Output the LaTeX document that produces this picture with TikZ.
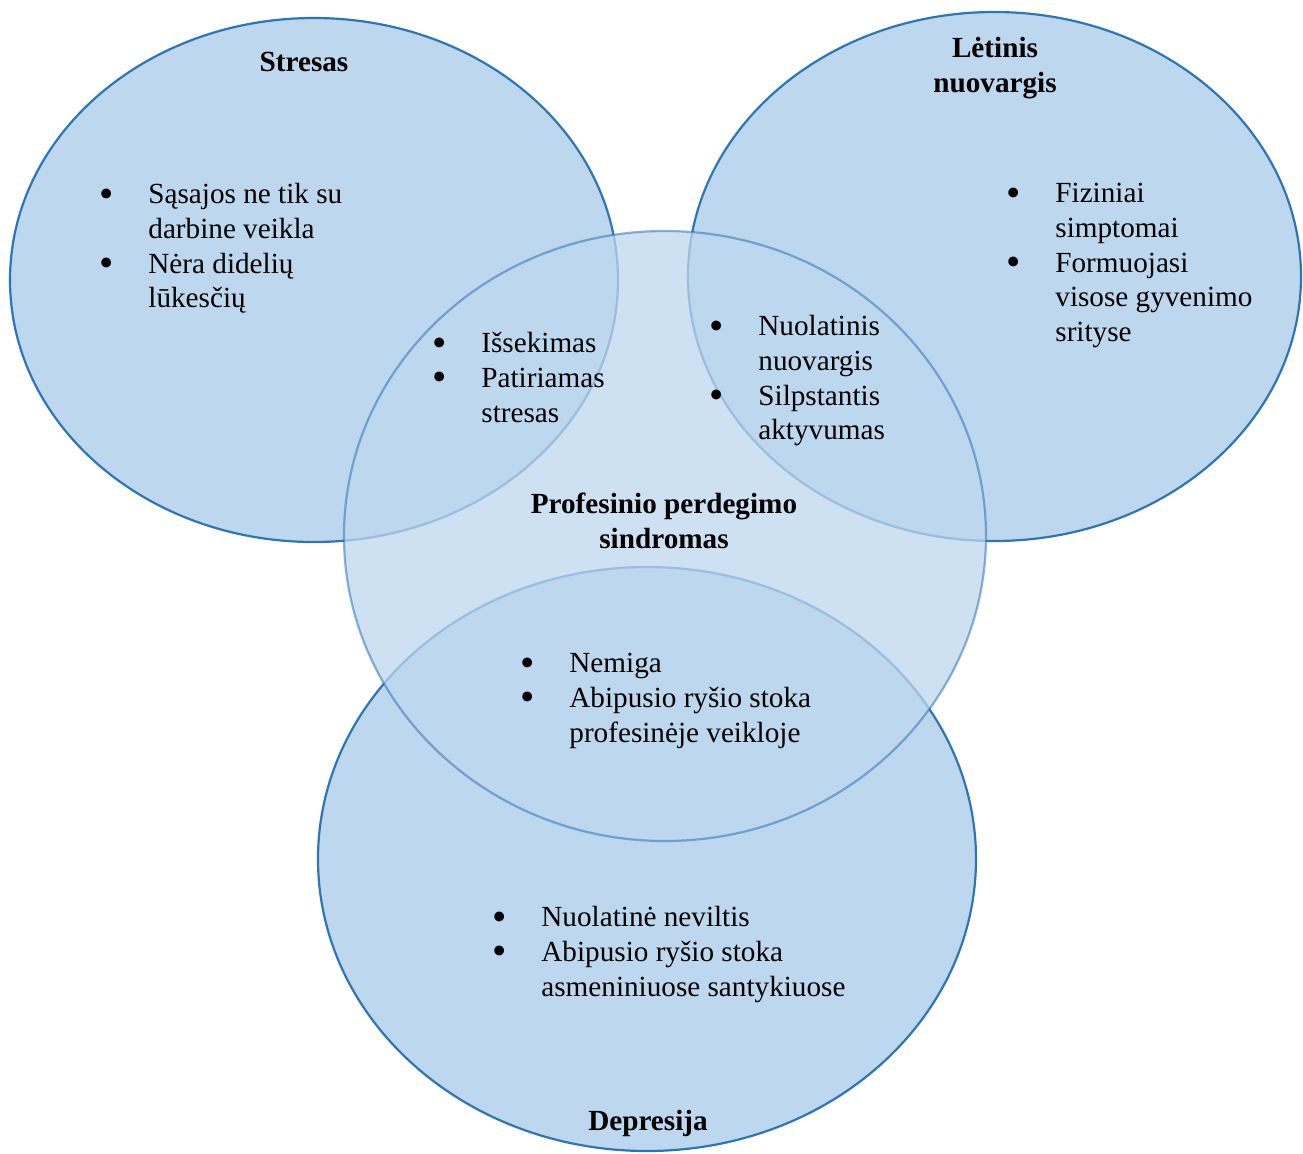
\documentclass[tikz,border=0pt]{standalone}
\usepackage{fontspec}
\setmainfont{Liberation Serif}
\usepackage{graphicx}
\usetikzlibrary{shapes.geometric,positioning}
\definecolor{vennfill}{RGB}{189,215,238}
\definecolor{vennline}{RGB}{46,117,182}
\newcommand{\bul}{\makebox[0pt]{\raisebox{-1.8pt}{\scalebox{1.4}{\textbullet}}}\hspace*{21pt}}
\newcommand{\ind}{\hspace*{21pt}}
\newcommand{\topln}{\rule{0pt}{14pt}}

\begin{document}
\begin{tikzpicture}[x=0.5pt, y=-0.5pt,
every node/.style={
        font=\fontsize{14.6}{17.4}\selectfont
    },
    venn/.style = {ellipse, draw=vennline, fill=vennfill,
                   line width=1.1pt, inner sep=0pt},
    mid/.style = {venn, fill opacity=0.75, draw opacity=0.55},
    head/.style = {font=\fontsize{14.6}{17.4}\selectfont\bfseries,
                   align=center, inner sep=0pt},
    items/.style = {align=left, inner sep=0pt, anchor=north west}
    ]
\useasboundingbox (0,0) rectangle (1303,1153);
% the three outer sets
\node (Stresas)   [venn, minimum width=304pt, minimum height=262pt] at (314,280) {};
\node (Letinis)   [venn, minimum width=306.5pt, minimum height=264.5pt] at (994.5,276.5) {};
\node (Depresija) [venn, minimum width=329pt, minimum height=292pt] at (647,859) {};
% burnout in the middle, see-through
\node (Perdegimas) [mid, minimum width=321pt, minimum height=305pt] at (665,536) {};

% titles
\node (StresasTitle) [head, anchor=base] at (304,71) {Stresas};
\node (LetinisTitle) [head, anchor=north] at (995,29) {\topln Lėtinis\\nuovargis};
\node (PerdegimasTitle) [head, anchor=north] at (664,485)
        {\topln Profesinio perdegimo\\sindromas};
\node (DepresijaTitle) [head, anchor=base] at (648,1130) {Depresija};

% bullet lists
\node (StresasList) [items] at (106,175)
        {\topln\bul Sąsajos ne tik su\\\ind darbine veikla\\\bul Nėra didelių\\\ind lūkesčių};
\node (StresasMid) [items] at (439,324)
        {\topln\bul Išsekimas\\\bul Patiriamas\\\ind stresas};
\node (LetinisList) [items] at (1013,174)
        {\topln\bul Fiziniai\\\ind simptomai\\\bul Formuojasi\\\ind visose gyvenimo\\\ind srityse};
\node (LetinisMid) [items] at (716,307)
        {\topln\bul Nuolatinis\\\ind nuovargis\\\bul Silpstantis\\\ind aktyvumas};
\node (DepresijaMid) [items] at (527,644)
        {\topln\bul Nemiga\\\bul Abipusio ryšio stoka\\\ind profesinėje veikloje};
\node (DepresijaList) [items] at (499,898)
        {\topln\bul Nuolatinė neviltis\\\bul Abipusio ryšio stoka\\\ind asmeniniuose santykiuose};
\end{tikzpicture}
\end{document}
